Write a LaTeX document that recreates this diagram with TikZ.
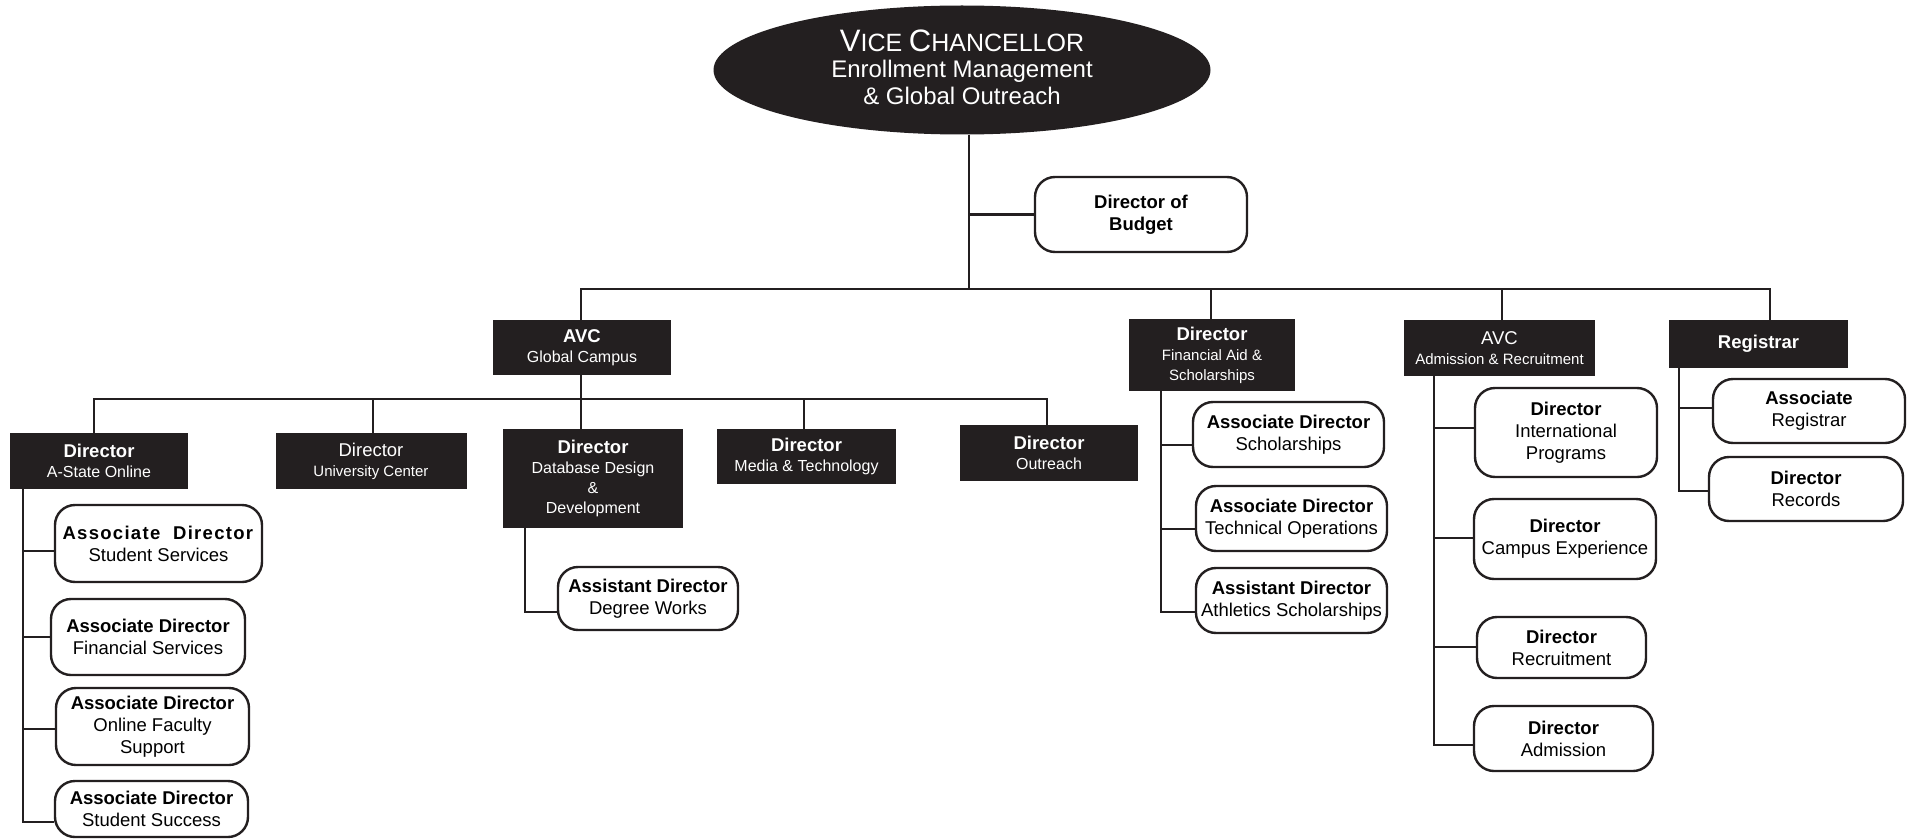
\documentclass[tikz,border=0pt]{standalone}
\usepackage{fontspec}
\setmainfont{Liberation Sans}
\usetikzlibrary{shapes.geometric}
\definecolor{ink}{HTML}{231F20}
\newcommand\fs[2]{\fontsize{#1}{#2}\selectfont}
\newcommand\tb[1]{{\fs{18.5}{22}\bfseries #1}}
\newcommand\tr[1]{{\fs{18.5}{22}#1}}
\tikzset{
  conn/.style={draw=ink, line width=2.7pt},
  sz/.style 2 args={minimum width=#1pt, minimum height=#2pt},
  dbox/.style={fill=ink, text=white, inner sep=0pt, align=center, font=\fs{16}{20}},
  nbox/.style={dbox, font=\fs{15}{20}},
  rbox/.style={draw=ink, line width=2.4pt, fill=white, rounded corners=20pt, inner sep=0pt, align=center, font=\fs{18.5}{22}},
  vcnode/.style={ellipse, fill=ink, inner sep=0pt},
  vctext/.style={text=white, inner sep=0pt, align=center, font=\fs{24}{26.5}}
}
\begin{document}
\begin{tikzpicture}[x=1pt,y=-1pt]
\useasboundingbox[fill=white] (0,0) rectangle (1913,840);

% top
\node[vcnode, sz={497}{129}] (vc) at (962,70) {};
\node[vctext] (vct) at (962,67) {{\fs{31}{26}V}{\fs{25}{26}ICE} {\fs{31}{26}C}{\fs{25}{26}HANCELLOR}\\Enrollment Management\\\& Global Outreach};
\node[rbox, sz={212}{75}] (bud) at (1141,214.5) {\textbf{Director of}\\\textbf{Budget}};

% level 1
\node[dbox, sz={178}{55}] (avcg) at (582,347.5) {\tb{AVC}\\Global Campus};
\node[nbox, sz={166}{72}] (fin) at (1212,355) {\tb{Director}\\Financial Aid \&\\Scholarships};
\node[nbox, sz={191}{56}] (avca) at (1499.5,348) {\tr{AVC}\\Admission \& Recruitment};
\node[dbox, sz={179}{48}] (reg) at (1758.5,344) {\tb{Registrar}};

% level 2 under AVC Global Campus
\node[dbox, sz={178}{56}] (ason) at (99,461) {\tb{Director}\\A-State Online};
\node[nbox, sz={191}{56}] (univ) at (371,461) {\tr{Director}\\University Center};
\node[dbox, sz={180}{99}] (dbd) at (593,478.5) {\tb{Director}\\Database Design\\\&\\Development};
\node[dbox, sz={179}{55}] (media) at (806.5,456.5) {\tb{Director}\\Media \& Technology};
\node[dbox, sz={178}{56}] (outr) at (1049,453) {\tb{Director}\\Outreach};

% rounded boxes
\node[rbox, sz={207}{77}] (ss) at (158.5,543.5) {{\addfontfeature{LetterSpace=7}\textbf{Associate\ \ Director}}\\Student Services};
\node[rbox, sz={194}{76}] (fs) at (148,637) {\textbf{Associate Director}\\Financial Services};
\node[rbox, sz={193}{77}] (of) at (152.5,726.5) {\textbf{Associate Director}\\Online Faculty\\Support};
\node[rbox, sz={193}{56}] (sc) at (151.5,809) {\textbf{Associate Director}\\Student Success};
\node[rbox, sz={180}{63}] (dw) at (648,598.5) {\textbf{Assistant Director}\\Degree Works};
\node[rbox, sz={191}{65}] (sch) at (1288.5,434.5) {\textbf{Associate Director}\\Scholarships};
\node[rbox, sz={191}{65}] (tech) at (1291.5,518.5) {\textbf{Associate Director}\\Technical Operations};
\node[rbox, sz={191}{65}] (ath) at (1291.5,600.5) {\textbf{Assistant Director}\\Athletics Scholarships};
\node[rbox, sz={182}{89}] (intl) at (1566,432.5) {\textbf{Director}\\International\\Programs};
\node[rbox, sz={182}{80}] (camp) at (1565,539) {\textbf{Director}\\Campus Experience};
\node[rbox, sz={169}{61}] (recr) at (1561.5,647.5) {\textbf{Director}\\Recruitment};
\node[rbox, sz={179}{65}] (adm) at (1563.5,738.5) {\textbf{Director}\\Admission};
\node[rbox, sz={192}{64}] (areg) at (1809,411) {\textbf{Associate}\\Registrar};
\node[rbox, sz={194}{64}] (rec) at (1806,489) {\textbf{Director}\\Records};

% connectors
\draw[conn] (vc.south -| 969,0) -- (969,289);
\draw[conn] (bud.west -| 969,0) -- (bud.west);
\draw[conn] (avcg.north -| 581,0) |- (1770,289) -- (reg.north -| 1770,0);
\draw[conn] (fin.north -| 1211,0) -- (1211,289);
\draw[conn] (avca.north -| 1502,0) -- (1502,289);

\draw[conn] (ason.north -| 94,0) |- (1047,399) -- (outr.north -| 1047,0);
\draw[conn] (avcg.south -| 581,0) -- (dbd.north -| 581,0);
\draw[conn] (univ.north -| 373,0) -- (373,399);
\draw[conn] (media.north -| 804,0) -- (804,399);

\draw[conn] (dbd.south -| 525,0) |- (dw.west |- 0,612);

\draw[conn] (ason.south -| 23,0) |- (sc.west |- 0,822);
\draw[conn] (23,551) -- (ss.west |- 0,551);
\draw[conn] (23,637) -- (fs.west |- 0,637);
\draw[conn] (23,729) -- (of.west |- 0,729);

\draw[conn] (fin.south -| 1161,0) |- (ath.west |- 0,612);
\draw[conn] (1161,445) -- (sch.west |- 0,445);
\draw[conn] (1161,529) -- (tech.west |- 0,529);

\draw[conn] (avca.south -| 1434,0) |- (adm.west |- 0,745);
\draw[conn] (1434,428) -- (intl.west |- 0,428);
\draw[conn] (1434,538) -- (camp.west |- 0,538);
\draw[conn] (1434,647) -- (recr.west |- 0,647);

\draw[conn] (reg.south -| 1679,0) |- (rec.west |- 0,491);
\draw[conn] (1679,408) -- (areg.west |- 0,408);
\end{tikzpicture}
\end{document}
